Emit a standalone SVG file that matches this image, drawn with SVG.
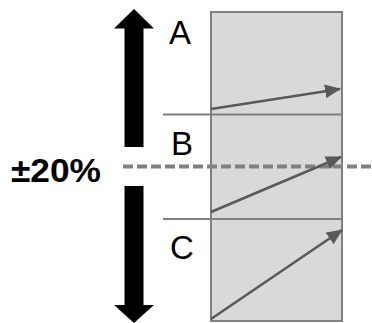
<svg xmlns="http://www.w3.org/2000/svg" width="372" height="323" viewBox="0 0 372 323">
  <style>
    .lbl { font-family: "Liberation Sans", Arial, sans-serif; font-size: 33px; fill: #000; }
    .pct { font-family: "Liberation Sans", Arial, sans-serif; font-size: 33px; font-weight: bold; fill: #000; }
    .sep { stroke: #808080; stroke-width: 2; fill: none; }
    .vec { stroke: #595959; stroke-width: 2.5; fill: none; marker-end: url(#head); }
    .big { fill: #000; }
  </style>
  <defs>
    <marker id="head" markerUnits="userSpaceOnUse" markerWidth="16" markerHeight="14" viewBox="0 0 16 14" refX="15" refY="7" orient="auto">
      <path d="M0,0 L16,7 L0,14 Z" fill="#595959"/>
    </marker>
  </defs>
  <g id="box">
    <rect x="211" y="12" width="131" height="309" fill="#d9d9d9" stroke="#808080" stroke-width="2"/>
  </g>
  <g id="arrow-up">
    <polygon class="big" points="134,9 154,28.5 143.5,28.5 143.5,147 124.5,147 124.5,28.5 114,28.5"/>
  </g>
  <g id="arrow-down">
    <polygon class="big" points="124.5,186 143.5,186 143.5,305 154,305 134,323 114,305 124.5,305"/>
  </g>
  <g id="labels">
    <text class="lbl" x="169" y="44">A</text>
    <text class="lbl" x="171" y="155">B</text>
    <text class="lbl" x="170" y="259">C</text>
    <text class="pct" x="11" y="182" textLength="90" lengthAdjust="spacingAndGlyphs">±20%</text>
  </g>
  <g id="connectors">
    <line class="sep" x1="163" y1="114.5" x2="342" y2="114.5"/>
    <line class="sep" x1="163" y1="219" x2="342" y2="219"/>
    <line x1="123" y1="166.5" x2="372" y2="166.5" stroke="#808080" stroke-width="4" stroke-dasharray="10,4"/>
    <line class="vec" x1="211" y1="109" x2="340" y2="89"/>
    <line class="vec" x1="211" y1="212" x2="341" y2="157"/>
    <line class="vec" x1="211" y1="319" x2="342" y2="230"/>
  </g>
</svg>
